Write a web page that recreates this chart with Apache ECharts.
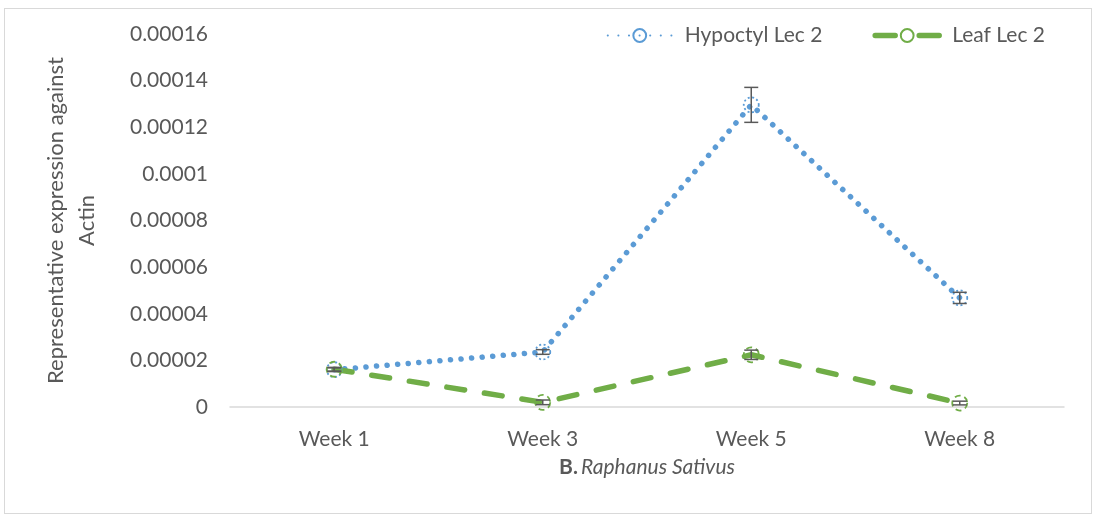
<!DOCTYPE html>
<html>
<head>
<meta charset="utf-8">
<script src="https://cdn.jsdelivr.net/npm/echarts@6/dist/echarts.min.js"></script>
<style>
  html, body { margin: 0; padding: 0; background: #fff; }
  #frame { position: absolute; left: 4px; top: 8px; width: 1088px; height: 506px; border: 1px solid #d9d9d9; box-sizing: border-box; }
  #chart { width: 1094px; height: 518px; }
</style>
</head>
<body>
<div id="frame"></div>
<div id="chart"></div>
<script>
// data
const weeks = ['Week 1', 'Week 3', 'Week 5', 'Week 8'];
const hypoctyl = [0.0000160, 0.0000236, 0.0001296, 0.0000468];
const hypoctylErr = [0.0000008, 0.0000010, 0.0000075, 0.0000024];
const leaf = [0.0000162, 0.0000020, 0.0000224, 0.0000017];
const leafErr = [0.0000008, 0.0000010, 0.0000020, 0.0000008];

const textColor = '#595959';
const font = 'Lato';

function errData(vals, errs) {
    return vals.map(function (v, i) { return [i, v - errs[i], v + errs[i]]; });
}

function renderErr(params, api) {
    const x = api.value(0);
    const lo = api.coord([x, api.value(1)]);
    const hi = api.coord([x, api.value(2)]);
    const w = 7;
    const st = { stroke: '#595959', lineWidth: 1.5 };
    return {
        type: 'group',
        children: [
            { type: 'line', shape: { x1: lo[0], y1: lo[1], x2: hi[0], y2: hi[1] }, style: st },
            { type: 'line', shape: { x1: lo[0] - w, y1: lo[1], x2: lo[0] + w, y2: lo[1] }, style: st },
            { type: 'line', shape: { x1: hi[0] - w, y1: hi[1], x2: hi[0] + w, y2: hi[1] }, style: st }
        ]
    };
}

let myChart = echarts.init(document.getElementById('chart'));
myChart.setOption({
    animation: false,
    textStyle: { fontFamily: font },
    grid: { left: 230, right: 30, top: 34, bottom: 111 },
    legend: {
        top: 20,
        right: 44,
        itemWidth: 64,
        itemHeight: 16,
        itemGap: 50,
        textStyle: { color: textColor, fontSize: 21, fontFamily: font, padding: [0, 0, 0, 8] },
        data: [
            { name: 'Hypoctyl Lec 2' },
            { name: 'Leaf Lec 2', lineStyle: { type: [20, 24], width: 5.5, cap: 'round' } }
        ]
    },
    xAxis: {
        type: 'category',
        data: weeks,
        axisLine: { lineStyle: { color: '#d9d9d9', width: 1.5 } },
        axisTick: { show: false },
        axisLabel: { color: textColor, fontSize: 21, margin: 22 },
        name: '{b|B.} {i|Raphanus Sativus}',
        nameLocation: 'middle',
        nameGap: 50,
        nameTextStyle: {
            rich: {
                b: { fontWeight: 'bold', color: textColor, fontSize: 21, fontFamily: font },
                i: { fontStyle: 'italic', color: textColor, fontSize: 21, fontFamily: font }
            }
        }
    },
    yAxis: {
        type: 'value',
        min: 0,
        max: 0.00016,
        interval: 0.00002,
        axisLine: { show: false },
        axisTick: { show: false },
        splitLine: { show: false },
        axisLabel: {
            color: textColor,
            fontSize: 21,
            margin: 22,
            formatter: function (v) { return v === 0 ? '0' : String(parseFloat(v.toPrecision(6))); }
        },
        name: 'Representative expression against\nActin',
        nameLocation: 'middle',
        nameGap: 128,
        nameTextStyle: { color: textColor, fontSize: 22, lineHeight: 31, fontFamily: font }
    },
    series: [{
        name: 'Hypoctyl Lec 2',
        type: 'line',
        data: hypoctyl,
        symbol: 'circle',
        symbolSize: 15,
        lineStyle: { color: '#5B9BD5', width: 5.5, type: [0.1, 10.5], cap: 'round' },
        itemStyle: { color: 'rgba(255,255,255,0)', borderColor: '#5B9BD5', borderWidth: 1.8, borderType: [2, 2.5] },
        z: 3
    }, {
        name: 'Leaf Lec 2',
        type: 'line',
        data: leaf,
        symbol: 'circle',
        symbolSize: 15,
        lineStyle: { color: '#70AD47', width: 5.5, type: [18, 20], cap: 'round' },
        itemStyle: { color: 'rgba(255,255,255,0)', borderColor: '#70AD47', borderWidth: 1.8, borderType: [6, 4] },
        z: 3
    }, {
        type: 'custom',
        data: errData(hypoctyl, hypoctylErr),
        renderItem: renderErr,
        z: 4
    }, {
        type: 'custom',
        data: errData(leaf, leafErr),
        renderItem: renderErr,
        z: 4
    }]
});
</script>
</body>
</html>
